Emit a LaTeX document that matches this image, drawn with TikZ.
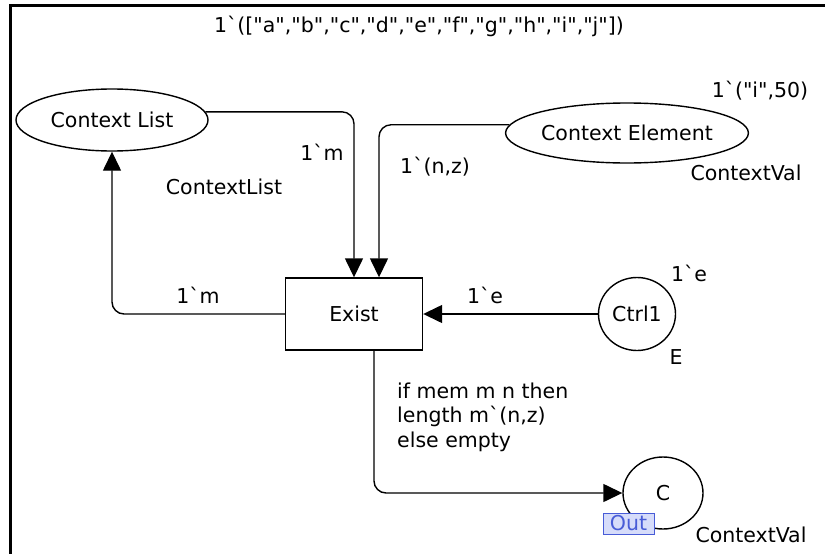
\documentclass[tikz,border=0pt]{standalone}
\usepackage{fontspec}
\setmainfont{DejaVu Sans}[Ligatures=TeXOff]
\usetikzlibrary{arrows.meta,shapes.geometric}
\definecolor{outblue}{RGB}{72,92,215}
\definecolor{outfill}{RGB}{214,220,250}
\begin{document}
\begin{tikzpicture}[x=1pt,y=-1pt,
                    every node/.style={font=\fontsize{20.5}{24.5}\selectfont},
                    cpnplace/.style={draw,ellipse,line width=1.4pt,inner sep=0pt},
                    cpntrans/.style={draw,rectangle,line width=1.4pt},
                    cpnarc/.style={line width=1.4pt,rounded corners=12pt,
                                   -{Triangle[length=19pt,width=18pt]}}]
\useasboundingbox (0,0) rectangle (825,554);
\draw [line width=3pt] (825,5.5) -- (10.5,5.5) -- (10.5,554);
% places and transition
\node [cpnplace,minimum width=192,minimum height=62] (ctxlist) at (112,120) {Context List};
\node [cpnplace,minimum width=207,minimum height=60] (ctxelem) at (627,133) {Context Element};
\node [cpntrans,minimum width=137,minimum height=72] (exist) at (354,314) {Exist};
\node [cpnplace,minimum width=77,minimum height=73] (ctrl) at (637,314) {Ctrl1};
\node [cpnplace,minimum width=80,minimum height=72] (cout) at (663,493) {C};
\node [draw=outblue,fill=outfill,text=outblue,line width=0.8pt,inner sep=0pt,
       minimum width=51,minimum height=21] (outtag) at (628.5,523.5) {Out};
% arcs
\draw [cpnarc] (ctxlist.5) -| (exist.north);
\draw [cpnarc] (ctxelem.176) -| ([xshift=25]exist.north);
\draw [cpnarc] (exist.west) -| (ctxlist.south);
\draw [cpnarc] (ctrl.west) -- (exist.east);
\draw [cpnarc] ([xshift=20]exist.south) |- (cout.west);
% inscriptions
\node (initlist) at (419,26) {1`(["a","b","c","d","e","f","g","h","i","j"])};
\node (initelem) at (760,91) {1`("i",50)};
\node (colelem) at (746,173) {ContextVal};
\node (collist) at (224,187) {ContextList};
\node (inm) at (322,152) {1`m};
\node (innz) at (435,167) {1`(n,z)};
\node (outm) at (198,295) {1`m};
\node (ine) at (485,295) {1`e};
\node (initctrl) at (689,273) {1`e};
\node (colctrl) at (676,357) {E};
\node (colout) at (751,535) {ContextVal};
\node [align=left,anchor=west,inner sep=0pt] (outexp) at (397,417) {if mem m n then\\length m`(n,z)\\else empty};
\end{tikzpicture}
\end{document}
